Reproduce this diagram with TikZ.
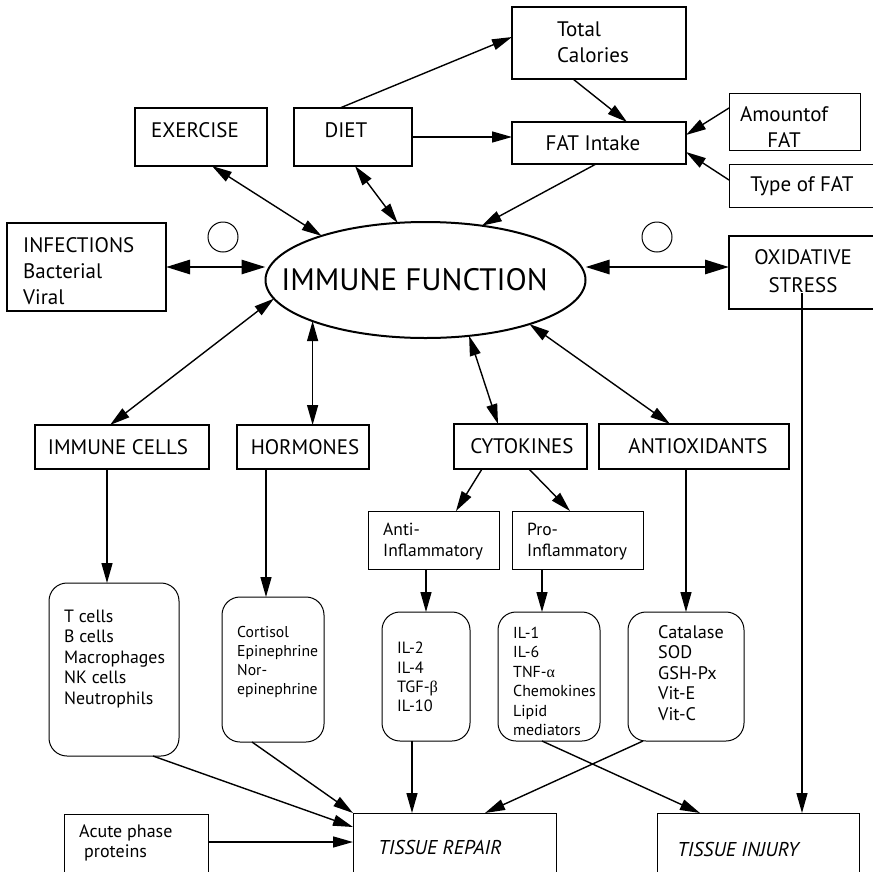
\documentclass[tikz,border=0pt]{standalone}
\usepackage{fontspec}
\setmainfont{PT Sans}
\newfontfamily\grk{Liberation Serif}
\usetikzlibrary{arrows.meta,calc,shapes.geometric}
\begin{document}
\begin{tikzpicture}[x=1pt,y=-1pt,
  thickbox/.style={draw, line width=2pt, inner sep=0pt, outer sep=0pt},
  thinbox/.style={draw, line width=1pt, inner sep=0pt, outer sep=0pt},
  roundbox/.style={draw, line width=1pt, rounded corners=18pt, inner sep=0pt, outer sep=0pt},
  lbl/.style={inner sep=0pt, font=\fontsize{21}{26}\selectfont},
  lst/.style={inner sep=0pt, align=left, anchor=west},
  arr/.style={line width=1.4pt, -{Triangle[length=20pt,width=11pt]}},
  dbl/.style={line width=1.4pt, {Triangle[length=20pt,width=11pt]}-{Triangle[length=20pt,width=11pt]}},
  heavy/.style={line width=2.8pt, {Triangle[length=24pt,width=14pt]}-{Triangle[length=24pt,width=14pt]}},
]
\useasboundingbox (0,0) rectangle (873,871);
\clip (0,0) rectangle (873,871);

% top
\node[thickbox, minimum width=174pt, minimum height=72pt] (tc) at (599,43) {};
\node[lbl, align=left, anchor=west] (tct) at (557,42.5) {Total\\Calories};
\node[thickbox, minimum width=174pt, minimum height=42pt] (fat) at (599,143) {};
\node[lbl] (fatt) at (593,143) {FAT Intake};
\node[thinbox, minimum width=131pt, minimum height=57pt] (amt) at (794.5,121.5) {};
\node[lbl, align=center] (amtt) at (784,127.5) {Amountof\\FAT};
\node[thinbox, minimum width=161pt, minimum height=43pt] (typ) at (809.5,185.5) {};
\node[lbl] (typt) at (802,186) {Type of FAT};
\node[thickbox, minimum width=132pt, minimum height=58pt] (ex) at (201,137) {};
\node[lbl] (ext) at (195,130) {EXERCISE};
\node[thickbox, minimum width=118pt, minimum height=58pt] (diet) at (353,137) {};
\node[lbl] (dietx) at (346,130) {DIET};

% middle row
\node[thickbox, minimum width=159pt, minimum height=88pt] (inf) at (86.5,267) {};
\node[lbl, align=left, anchor=west] (inft) at (23,271) {INFECTIONS\\Bacterial\\Viral};
\node[thickbox, minimum width=161pt, minimum height=73pt] (ox) at (809.5,272.5) {};
\node[lbl, align=center, font=\fontsize{21}{28}\selectfont] (oxt) at (803,271) {OXIDATIVE\\STRESS};
\node[ellipse, draw, line width=2pt, minimum width=320pt, minimum height=116pt, inner sep=0pt, outer sep=0pt] (imm) at (425.5,280) {};
\node[inner sep=0pt, font=\fontsize{31}{33}\selectfont] (immt) at (414.5,280) {IMMUNE FUNCTION};
\node[circle, draw, line width=1pt, minimum size=30pt, inner sep=0pt] (c1) at (223,237) {};
\node[circle, draw, line width=1pt, minimum size=30pt, inner sep=0pt] (c2) at (657,237) {};

% second level
\node[thickbox, minimum width=174pt, minimum height=44pt] (ic) at (122,447) {};
\node[lbl] (ict) at (118,447) {IMMUNE CELLS};
\node[thickbox, minimum width=132pt, minimum height=44pt] (hor) at (303,447) {};
\node[lbl] (hort) at (305,447) {HORMONES};
\node[thickbox, minimum width=133pt, minimum height=45pt] (cyt) at (520.5,446.5) {};
\node[lbl] (cytt) at (522,446) {CYTOKINES};
\node[thickbox, minimum width=190pt, minimum height=45pt] (aox) at (694,446.5) {};
\node[lbl] (aoxt) at (698,446) {ANTIOXIDANTS};
\node[thinbox, minimum width=131pt, minimum height=58pt] (anti) at (433.5,540) {};
\node[lst, font=\fontsize{17.5}{21}\selectfont] (antit) at (383,541.5) {Anti-\\Inflammatory};
\node[thinbox, minimum width=131pt, minimum height=58pt] (pro) at (577.5,540) {};
\node[lst, font=\fontsize{17.5}{21}\selectfont] (prot) at (527,541.5) {Pro-\\Inflammatory};

% lists
\node[roundbox, minimum width=130pt, minimum height=173pt] (r1) at (114,669.5) {};
\node[lst, font=\fontsize{17.8}{20.5}\selectfont] (r1t) at (64,659) {T cells\\B cells\\Macrophages\\NK cells\\Neutrophils};
\node[roundbox, minimum width=102pt, minimum height=145pt] (r2) at (273,669.5) {};
\node[lst, font=\fontsize{15.7}{19}\selectfont] (r2t) at (237,661.5) {Cortisol\\Epinephrine\\Nor-\\epinephrine};
\node[roundbox, minimum width=88pt, minimum height=129pt] (r3) at (426,676.5) {};
\node[lst, font=\fontsize{16.3}{19.3}\selectfont] (r3t) at (397,677) {IL-2\\IL-4\\TGF-{\grk β}\\IL-10};
\node[roundbox, minimum width=102pt, minimum height=129pt] (r4) at (549,676.5) {};
\node[lst, font=\fontsize{15.9}{19.5}\selectfont] (r4t) at (513,681.5) {IL-1\\IL-6\\TNF-{\grk α}\\Chemokines\\Lipid\\mediators};
\node[roundbox, minimum width=116pt, minimum height=129pt] (r5) at (686,676.5) {};
\node[lst, font=\fontsize{18.2}{20.5}\selectfont] (r5t) at (658,673) {Catalase\\SOD\\GSH-Px\\Vit-E\\Vit-C};

% bottom
\node[thinbox, minimum width=144pt, minimum height=76pt] (ac) at (136,852) {};
\node[lst, font=\fontsize{18}{20}\selectfont] (act) at (79,843) {Acute phase\\\hspace*{5pt}proteins};
\node[thinbox, minimum width=203pt, minimum height=77pt] (tr) at (454.5,851.5) {};
\node[lbl, font=\fontsize{20}{24}\selectfont\itshape] (trt) at (440,847) {TISSUE REPAIR};
\node[thinbox, minimum width=202pt, minimum height=77pt] (ti) at (758,851.5) {};
\node[lbl, font=\fontsize{20}{24}\selectfont\itshape] (tit) at (738,849) {TISSUE INJURY};

% connectors top
\draw[arr] ([xshift=-13pt]diet.north) -- ([yshift=6pt]tc.west);
\draw[arr] (diet.east) -- (diet.east -| fat.west);
\draw[arr] ([xshift=-26pt]tc.south) -- ([xshift=28pt]fat.north);
\draw[arr] ([yshift=13.5pt]amt.west) -- ([yshift=8pt]fat.east);
\draw[arr] ([yshift=5.5pt]typ.west) -- ([yshift=-9pt]fat.east);
\draw[arr] ([xshift=-3pt]fat.south) -- (imm.44);
\draw[dbl] ([xshift=11pt]ex.south) -- (imm.157);
\draw[dbl] ([xshift=2pt]diet.south) -- (imm.116);
\draw[heavy] (inf.east) -- (imm.west |- inf.east);
\draw[heavy] (imm.east |- inf.east) -- (ox.west |- inf.east);

% connectors to second level
\draw[dbl] (imm.187) -- ([xshift=-12pt]ic.north);
\draw[dbl] (imm.200) -- (imm.200 |- hor.north);
\draw[dbl] (imm.308) -- ([xshift=-22.5pt]cyt.north);
\draw[dbl] (imm.337) -- ([xshift=-24pt]aox.north);

% down
\draw[arr] ([xshift=-15pt]ic.south) -- ([xshift=-15pt]ic.south |- r1.north);
\draw[arr] ([xshift=-37pt]hor.south) -- ([xshift=-37pt]hor.south |- r2.north);
\draw[arr] ([xshift=-38.5pt]cyt.south) -- ([xshift=22.5pt]anti.north);
\draw[arr] ([xshift=8.5pt]cyt.south) -- ([xshift=-7.5pt]pro.north);
\draw[arr] (r3.north |- anti.south) -- (r3.north);
\draw[arr] ([xshift=-35.5pt]pro.south) -- ([xshift=-35.5pt]pro.south |- r4.north);
\draw[arr] (r5.north |- aox.south) -- (r5.north);
\draw[arr] ([xshift=-7.5pt,yshift=16pt]ox.south) -- ([xshift=-7.5pt]ox.south |- ti.north);

% bottom connectors
\draw[arr] ([xshift=39pt]r1.south) -- ([yshift=24.5pt]tr.west);
\draw[arr] ([xshift=-21pt]r2.south) -- (tr.north west);
\draw[arr] ([xshift=-14pt]r3.south) -- ([xshift=-14pt]r3.south |- tr.north);
\draw[arr] ([xshift=-43pt]r5.south) -- ([xshift=30.5pt]tr.north);
\draw[arr] ([xshift=-7pt]r4.south) -- ([xshift=-58pt]ti.north);
\draw[arr] ([yshift=10pt]ac.east) -- ([yshift=10pt]ac.east -| tr.west);
\end{tikzpicture}
\end{document}
